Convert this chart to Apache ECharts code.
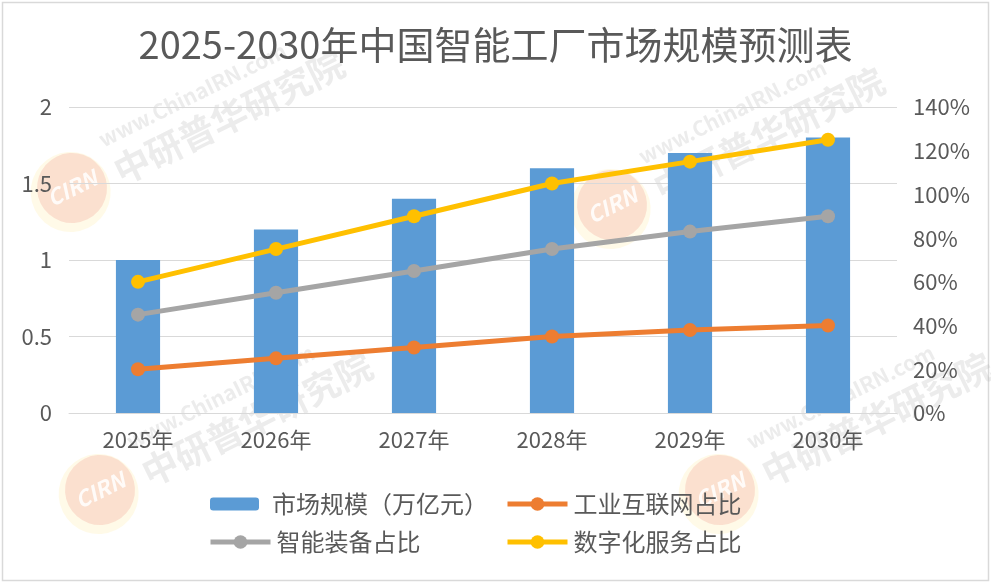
<!DOCTYPE html>
<html>
<head>
<meta charset="utf-8">
<script src="https://cdn.jsdelivr.net/npm/echarts@6/dist/echarts.min.js"></script>
<style>
html,body{margin:0;padding:0;background:#fff;}
#chart{width:991px;height:583px;}
</style>
</head>
<body>
<div id="chart"></div>
<script>
var titleText = '2025-2030年中国智能工厂市场规模预测表';
var categories = ['2025年', '2026年', '2027年', '2028年', '2029年', '2030年'];
var marketSize = [1.0, 1.2, 1.4, 1.6, 1.7, 1.8];          // 万亿元
var industrialInternet = [20, 25, 30, 35, 38, 40];        // %
var smartEquipment = [45, 55, 65, 75, 83, 90];            // %
var digitalService = [60, 75, 90, 105, 115, 125];         // %
var seriesNames = ['市场规模（万亿元）', '工业互联网占比', '智能装备占比', '数字化服务占比'];
var leftTicks = [0, 0.5, 1, 1.5, 2];
var rightTicks = [0, 20, 40, 60, 80, 100, 120, 140];

var FONT = '"Noto Sans CJK SC", "Noto Sans", sans-serif';
var TXT = '#595959';

function watermark(x, y) {
  return {
    type: 'group', x: x, y: y, rotation: 0.46, z: 100, silent: true,
    children: [
      {type: 'circle', shape: {cx: -3, cy: 3, r: 40}, style: {fill: 'rgba(255,225,110,0.16)'}},
      {type: 'circle', shape: {cx: 0, cy: 0, r: 35}, style: {fill: 'rgba(225,80,70,0.15)'}},
      {type: 'text', x: 0, y: 0, style: {text: 'CIRN', fill: 'rgba(255,255,255,0.85)', font: 'italic bold 22px ' + FONT, align: 'center', verticalAlign: 'middle'}},
      {type: 'text', x: 46, y: -30, style: {text: 'www.ChinaIRN.com', fill: 'rgba(170,170,170,0.22)', font: 'bold 21px ' + FONT, verticalAlign: 'middle'}},
      {type: 'text', x: 46, y: 6, style: {text: '中研普华研究院', fill: 'rgba(170,170,170,0.22)', font: 'bold 36px ' + FONT, verticalAlign: 'middle'}}
    ]
  };
}

var chart = echarts.init(document.getElementById('chart'));
var lineCommon = function (name, data, color) {
  return {
    name: name, type: 'line', yAxisIndex: 1, data: data,
    symbol: 'circle', symbolSize: 14,
    lineStyle: {width: 5, color: color},
    itemStyle: {color: color},
    animation: false
  };
};
var legendCommon = function (name, left, top, w, h, pad) {
  return {
    data: [name], left: left, top: top, itemWidth: w, itemHeight: h, itemGap: 0,
    textStyle: {fontSize: 24, color: TXT, fontFamily: FONT, padding: [0, 0, 0, pad]},
    lineStyle: {width: 5},
    selectedMode: false
  };
};

chart.setOption({
  backgroundColor: '#fff',
  animation: false,
  title: {
    text: titleText, left: 'center', top: 21,
    textStyle: {fontSize: 38, fontWeight: 'normal', color: TXT, fontFamily: FONT}
  },
  legend: [
    legendCommon(seriesNames[0], 205, 487, 49, 13, 8),
    legendCommon(seriesNames[1], 500, 487, 60, 17, 1),
    legendCommon(seriesNames[2], 203, 525, 60, 17, 1),
    legendCommon(seriesNames[3], 500, 525, 60, 17, 1)
  ],
  grid: {left: 69, right: 94, top: 107, bottom: 170},
  xAxis: {
    type: 'category', data: categories,
    axisLine: {lineStyle: {color: '#D9D9D9', width: 1}},
    axisTick: {show: false},
    axisLabel: {fontSize: 22, color: TXT, fontFamily: FONT, margin: 16}
  },
  yAxis: [
    {
      type: 'value', min: 0, max: 2, interval: 0.5,
      axisLine: {show: false}, axisTick: {show: false},
      splitLine: {lineStyle: {color: '#D9D9D9', width: 1}},
      axisLabel: {fontSize: 22, color: TXT, fontFamily: FONT, margin: 17}
    },
    {
      type: 'value', min: 0, max: 140, interval: 20,
      axisLine: {show: false}, axisTick: {show: false},
      splitLine: {show: false},
      axisLabel: {fontSize: 22, color: TXT, fontFamily: FONT, margin: 16, formatter: '{value}%'}
    }
  ],
  series: [
    {name: seriesNames[0], type: 'bar', data: marketSize, barWidth: '32%', itemStyle: {color: '#5B9BD5'}},
    lineCommon(seriesNames[1], industrialInternet, '#ED7D31'),
    lineCommon(seriesNames[2], smartEquipment, '#A5A5A5'),
    lineCommon(seriesNames[3], digitalService, '#FFC000')
  ],
  graphic: [
    {type: 'rect', shape: {x: 2.5, y: 2.5, width: 986, height: 578}, style: {fill: 'none', stroke: '#D9D9D9', lineWidth: 1.5}, silent: true, z: 0},
    watermark(72, 188),
    watermark(612, 205),
    watermark(100, 490),
    watermark(720, 490)
  ]
});
</script>
</body>
</html>
